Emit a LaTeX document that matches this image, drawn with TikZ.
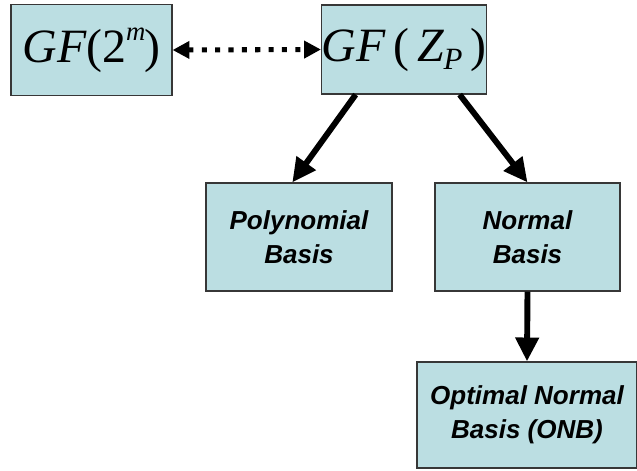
\documentclass[tikz,border=0pt]{standalone}
\usepackage{fontspec}
\setmainfont{Liberation Serif}
\setsansfont{Liberation Sans}
\usetikzlibrary{arrows.meta, positioning}
\definecolor{boxfill}{RGB}{187,222,226}
\definecolor{boxline}{RGB}{55,55,55}

\begin{document}
\begin{tikzpicture}[x=0.025cm, y=-0.025cm]
  % --- STYLE DEFINITIONS ---
  \tikzstyle{field}=[draw=boxline, fill=boxfill, line width=0.8pt, inner sep=0pt, font=\fontsize{34}{36}\selectfont]
  \tikzstyle{basis}=[draw=boxline, fill=boxfill, line width=0.8pt, inner sep=0pt, align=center, font=\sffamily\bfseries\itshape\fontsize{18.5}{24}\selectfont]
  \tikzstyle{branch}=[line width=4.2pt, -{Triangle[length=17pt, width=16pt]}]
  \tikzstyle{link}=[line width=3.6pt, dash pattern=on 3.6pt off 5.9pt, {Triangle[length=12pt, width=12pt]}-{Triangle[length=12pt, width=12pt]}]

  \useasboundingbox (0,0) rectangle (637,470);

  % =================================================================
  % FIELDS
  % =================================================================
  \node[field, minimum width=4.025cm, minimum height=2.275cm] (gftwo) at (91.5,50)
    {\itshape GF\upshape(2\raisebox{0.46em}{\fontsize{19}{19}\selectfont\itshape m}\kern-0.02em)};
  \node[field, minimum width=4.05cm, minimum height=2.225cm] (gfzp) at (404,49.5)
    {\itshape GF\,\upshape(\,\itshape Z\raisebox{-0.18em}{\fontsize{22}{22}\selectfont P}\,\upshape)};

  \draw[link] (gftwo.east) -- (gfzp.west);

  % =================================================================
  % BASES
  % =================================================================
  \node[basis, minimum width=4.65cm, minimum height=2.7cm] (poly) at (299,237) {Polynomial\\Basis};
  \node[basis, minimum width=4.625cm, minimum height=2.7cm] (normal) at (527.5,237) {Normal\\Basis};
  \node[basis, minimum width=5.5cm, minimum height=2.65cm] (onb) at (527,415) {Optimal Normal\\Basis (ONB)};

  \draw[branch] (gfzp.223) -- (poly.97);
  \draw[branch] (gfzp.321.5) -- (normal.north);
  \draw[branch] (normal.south) -- (onb.north);

\end{tikzpicture}
\end{document}
